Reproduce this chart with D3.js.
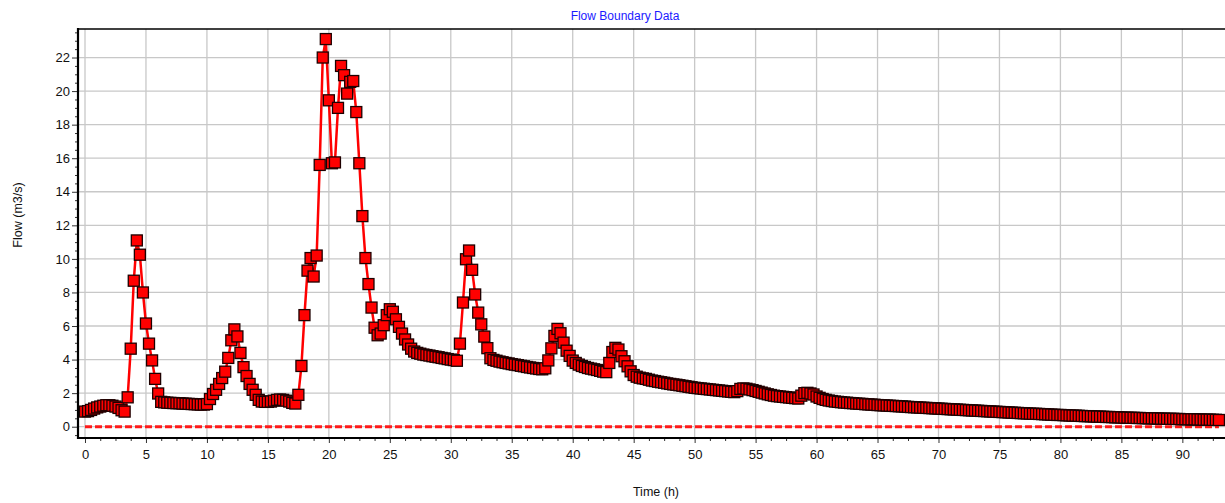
<!DOCTYPE html>
<html>
<head>
<meta charset="utf-8">
<script src="https://cdn.jsdelivr.net/npm/d3@7"></script>
<style>
  html, body { margin: 0; padding: 0; background: #fff; }
  svg { display: block; font-family: "Liberation Sans", Arial, sans-serif; }
</style>
</head>
<body>
<svg id="chart" width="1225" height="503"></svg>
<script>
// Hydrograph at the flow boundary, one value every 15 minutes from 0 h to 93 h.
const timeStep = 0.25; // hours between samples
const flow = [
  0.90, 0.93, 1.00, 1.08,   1.15, 1.20, 1.25, 1.28,   1.28, 1.25, 1.20, 1.12,
  0.98, 0.90, 1.75, 4.65,   8.70, 11.10, 10.25, 8.00, 6.15, 4.95, 3.95, 2.85,
  1.98, 1.48, 1.45, 1.43,   1.42, 1.41, 1.40, 1.40,   1.38, 1.37, 1.36, 1.35,
  1.34, 1.33, 1.32, 1.32,   1.35, 1.65, 1.95, 2.20,   2.55, 2.90, 3.28, 4.10,
  5.15, 5.80, 5.38, 4.40,   3.55, 3.02, 2.55, 2.20,   1.90, 1.60, 1.50, 1.48,
  1.48, 1.50, 1.55, 1.60,   1.62, 1.60, 1.55, 1.50,   1.42, 1.38, 1.90, 3.62,
  6.65, 9.30, 10.05, 8.95,  10.20, 15.60, 22.00, 23.10, 19.45, 15.70, 15.75, 19.00,
  21.50, 20.95, 19.85, 20.55, 20.60, 18.75, 15.70, 12.55, 10.05, 8.50, 7.10, 5.90,
  5.45, 5.55, 6.05, 6.65,   7.00, 6.85, 6.40, 5.95,   5.55, 5.20, 4.90, 4.65,
  4.48, 4.40, 4.35, 4.30,   4.27, 4.24, 4.20, 4.17,   4.14, 4.10, 4.07, 4.03,
  4.00, 3.97, 3.93, 4.95,   7.40, 9.98, 10.50, 9.35,  7.88, 6.80, 6.10, 5.37,
  4.68, 4.08, 3.98, 3.93,   3.88, 3.84, 3.80, 3.77,   3.73, 3.70, 3.67, 3.63,
  3.60, 3.56, 3.53, 3.50,   3.47, 3.44, 3.42, 3.48,   3.95, 4.67, 5.41, 5.83,
  5.57, 5.01, 4.53, 4.22,   3.94, 3.80, 3.70, 3.62,   3.56, 3.50, 3.46, 3.42,
  3.38, 3.33, 3.28, 3.25,   3.80, 4.45, 4.70, 4.60,   4.20, 3.90, 3.60, 3.30,
  3.08, 2.98, 2.92, 2.88,   2.85, 2.80, 2.75, 2.72,   2.68, 2.65, 2.62, 2.58,
  2.55, 2.52, 2.50, 2.47,   2.44, 2.41, 2.38, 2.35,   2.32, 2.30, 2.28, 2.26,
  2.24, 2.22, 2.20, 2.18,   2.16, 2.14, 2.12, 2.10,   2.08, 2.06, 2.12, 2.25,
  2.28, 2.26, 2.22, 2.18,   2.13, 2.08, 2.03, 1.98,   1.93, 1.89, 1.85, 1.82,
  1.80, 1.78, 1.76, 1.74,   1.72, 1.70, 1.68, 1.85,   2.00, 2.02, 1.98, 1.92,
  1.80, 1.72, 1.65, 1.60,   1.56, 1.53, 1.50, 1.48,   1.46, 1.44, 1.43, 1.41,
  1.40, 1.38, 1.37, 1.36,   1.34, 1.33, 1.32, 1.31,   1.29, 1.28, 1.27, 1.26,
  1.25, 1.24, 1.23, 1.22,   1.21, 1.20, 1.18, 1.17,   1.16, 1.15, 1.14, 1.13,
  1.12, 1.11, 1.10, 1.09,   1.08, 1.07, 1.06, 1.05,   1.04, 1.03, 1.02, 1.01,
  1.00, 0.99, 0.98, 0.97,   0.96, 0.95, 0.94, 0.93,   0.92, 0.91, 0.90, 0.89,
  0.88, 0.87, 0.86, 0.85,   0.84, 0.83, 0.82, 0.81,   0.80, 0.79, 0.78, 0.77,
  0.77, 0.76, 0.75, 0.74,   0.73, 0.72, 0.71, 0.70,   0.70, 0.69, 0.68, 0.67,
  0.66, 0.66, 0.65, 0.64,   0.63, 0.63, 0.62, 0.61,   0.60, 0.60, 0.59, 0.58,
  0.58, 0.57, 0.56, 0.56,   0.55, 0.54, 0.54, 0.53,   0.53, 0.52, 0.52, 0.51,
  0.51, 0.50, 0.50, 0.49,   0.49, 0.48, 0.48, 0.47,   0.47, 0.47, 0.46, 0.46,
  0.45, 0.45, 0.44, 0.44,   0.44, 0.43, 0.43, 0.42,   0.42, 0.42, 0.41, 0.41,
  0.40
];
const times = flow.map((_, i) => i * timeStep);
// Second boundary series: zero flow over the whole run.
const baseFlow = flow.map(() => 0);

const xTicks = [0, 5, 10, 15, 20, 25, 30, 35, 40, 45, 50, 55, 60, 65, 70, 75, 80, 85, 90];
const yTicks = [0, 2, 4, 6, 8, 10, 12, 14, 16, 18, 20, 22];

const titleText = "Flow Boundary Data";
const xLabel = "Time (h)";
const yLabel = "Flow (m3/s)";

// Plot box
const box = { left: 78, right: 1226, top: 29, bottom: 438 };

const x = d3.scaleLinear().domain([-0.574, 93.58]).range([box.left, box.right]);
const y = d3.scaleLinear().domain([-0.673, 23.70]).range([box.bottom, box.top]);

const svg = d3.select("#chart");

svg.append("defs").append("clipPath").attr("id", "plot-clip")
  .append("rect").attr("x", box.left).attr("y", box.top)
  .attr("width", box.right - box.left).attr("height", box.bottom - box.top);

// Grid
const grid = svg.append("g").attr("stroke", "#c8c8c8").attr("stroke-width", 1.3);
grid.selectAll("line.gx").data(xTicks).join("line").attr("class", "gx")
  .attr("x1", d => x(d)).attr("x2", d => x(d)).attr("y1", box.top).attr("y2", box.bottom);
grid.selectAll("line.gy").data(yTicks).join("line").attr("class", "gy")
  .attr("x1", box.left).attr("x2", box.right).attr("y1", d => y(d)).attr("y2", d => y(d));

const plot = svg.append("g").attr("clip-path", "url(#plot-clip)");

// Zero-flow series, dashed
plot.append("path")
  .datum(times.map((t, i) => [t, baseFlow[i]]))
  .attr("fill", "none").attr("stroke", "#ff1a1a").attr("stroke-width", 3)
  .attr("stroke-dasharray", "7,3")
  .attr("d", d3.line().x(d => x(d[0])).y(d => y(d[1])));

// Flow series line
plot.append("path")
  .datum(times.map((t, i) => [t, flow[i]]))
  .attr("fill", "none").attr("stroke", "#ff0000").attr("stroke-width", 2.5)
  .attr("stroke-linejoin", "round")
  .attr("d", d3.line().x(d => x(d[0])).y(d => y(d[1])));

// Square markers
const ms = 11;
plot.append("g").selectAll("rect").data(times.map((t, i) => [t, flow[i]])).join("rect")
  .attr("x", d => x(d[0]) - ms / 2).attr("y", d => y(d[1]) - ms / 2)
  .attr("width", ms).attr("height", ms)
  .attr("fill", "#ff0000").attr("stroke", "#1e0000").attr("stroke-width", 1.3);

// Axes
const yMajor = svg.append("g").attr("transform", `translate(${box.left},0)`)
  .call(d3.axisLeft(y).tickValues(yTicks).tickSize(6).tickPadding(2).tickFormat(d3.format("d")));
const yMinorVals = d3.range(-0.5, 23.6, 0.5).filter(v => !yTicks.includes(v));
const yMinor = svg.append("g").attr("transform", `translate(${box.left},0)`)
  .call(d3.axisLeft(y).tickValues(yMinorVals).tickSize(3).tickFormat(""));

const xMajor = svg.append("g").attr("transform", `translate(0,${box.bottom})`)
  .call(d3.axisBottom(x).tickValues(xTicks).tickSize(5).tickPadding(7).tickFormat(d3.format("d")));
const xMinorVals = d3.range(0, 93.6, 1.25).filter(v => !xTicks.includes(v));
const xMinor = svg.append("g").attr("transform", `translate(0,${box.bottom})`)
  .call(d3.axisBottom(x).tickValues(xMinorVals).tickSize(3).tickFormat(""));

[yMajor, yMinor, xMajor, xMinor].forEach(g => {
  g.select(".domain").remove();
  g.selectAll(".tick line").attr("stroke", "#333").attr("stroke-width", 1);
  g.selectAll("text").attr("font-size", 13).attr("fill", "#111")
    .attr("font-family", "'Liberation Sans', Arial, sans-serif");
});

// Frame lines
svg.append("line").attr("x1", box.left).attr("x2", box.left).attr("y1", box.top - 1).attr("y2", box.bottom + 1)
  .attr("stroke", "#000").attr("stroke-width", 2.2);
svg.append("line").attr("x1", box.left - 1).attr("x2", box.right).attr("y1", box.bottom).attr("y2", box.bottom)
  .attr("stroke", "#000").attr("stroke-width", 2.2);
svg.append("line").attr("x1", box.left).attr("x2", box.right).attr("y1", box.top).attr("y2", box.top)
  .attr("stroke", "#000").attr("stroke-width", 1.5);

// Titles
svg.append("text").attr("x", 625).attr("y", 20).attr("text-anchor", "middle")
  .attr("font-size", 12).attr("fill", "#1a1aff").text(titleText);
svg.append("text").attr("x", 656).attr("y", 496).attr("text-anchor", "middle")
  .attr("font-size", 12.5).attr("fill", "#111").text(xLabel);
svg.append("text").attr("transform", "translate(22,215) rotate(-90)").attr("text-anchor", "middle")
  .attr("font-size", 12.5).attr("fill", "#111").text(yLabel);
</script>
</body>
</html>
